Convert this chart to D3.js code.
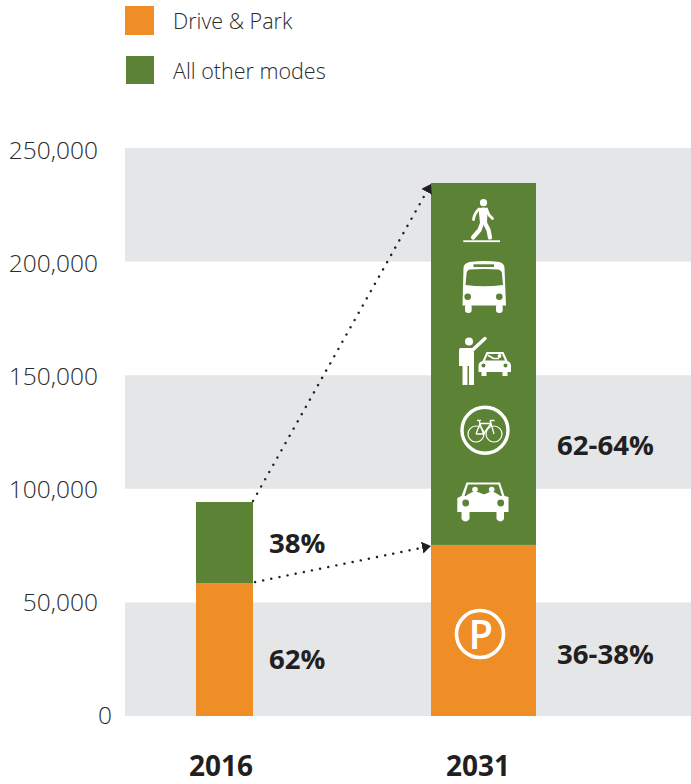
<!DOCTYPE html>
<html><head><meta charset="utf-8">
<script src="https://cdn.jsdelivr.net/npm/d3@7"></script>
<style>
html,body{margin:0;padding:0;background:#fff}
svg{display:block}
text{font-family:"Open Sans",sans-serif}
</style></head><body>
<svg id="c" width="691" height="784"></svg>
<script>
const years = ["2016", "2031"];
const driveAndPark = [58500, 75300];
const allOtherModes = [35700, 159300];
const seriesNames = ["Drive & Park", "All other modes"];
const tickValues = [0, 50000, 100000, 150000, 200000, 250000];
const bandRanges = [[0, 50000], [100000, 150000], [200000, 250000]];
const shareDrive = ["62%", "36-38%"];
const shareOther = ["38%", "62-64%"];
const ORANGE = "#ef8d27", GREEN = "#5c8236", GRAY = "#e5e6e8", INK = "#231f20";

const svg = d3.select("#c");
const y = d3.scaleLinear().domain([0, 250000]).range([716, 148]);
const xc = d3.scaleOrdinal().domain(years).range([224.5, 483.5]);
const bw = d3.scaleOrdinal().domain(years).range([57, 105]);

// bands
svg.selectAll("rect.band").data(bandRanges).join("rect").attr("class", "band")
  .attr("x", 125).attr("width", 566)
  .attr("y", d => y(d[1])).attr("height", d => y(d[0]) - y(d[1])).attr("fill", GRAY);

// axis
const ax = svg.append("g").attr("transform", "translate(98,0)")
  .call(d3.axisLeft(y).tickValues(tickValues).tickSize(0).tickPadding(0).tickFormat(d3.format(",")));
ax.select(".domain").remove();
ax.selectAll("text").attr("font-size", 24.5).attr("font-weight", 300).attr("fill", "#2b2b2b")
  .style("font-family", '"Open Sans",sans-serif').attr("dy", "0.3em")
  .attr("y", d => 3 * d / 250000)
  .attr("x", d => d === 0 ? 14 : 0);

// bars
svg.selectAll("rect.d").data(years).join("rect").attr("class", "d")
  .attr("x", d => xc(d) - bw(d) / 2).attr("width", d => bw(d))
  .attr("y", (d, i) => y(driveAndPark[i])).attr("height", (d, i) => y(0) - y(driveAndPark[i])).attr("fill", ORANGE);
svg.selectAll("rect.o").data(years).join("rect").attr("class", "o")
  .attr("x", d => xc(d) - bw(d) / 2).attr("width", d => bw(d))
  .attr("y", (d, i) => y(driveAndPark[i] + allOtherModes[i]))
  .attr("height", (d, i) => y(driveAndPark[i]) - y(driveAndPark[i] + allOtherModes[i])).attr("fill", GREEN);

// year labels
svg.selectAll("text.yr").data(years).join("text").attr("class", "yr")
  .attr("x", d => xc(d) - (d === "2016" ? 3.5 : 5.5)).attr("y", 776).attr("text-anchor", "middle")
  .attr("font-size", 28).attr("font-weight", 700).attr("fill", INK).text(d => d);

// share labels
const pct = (arr, yVal, cls) => svg.selectAll("text." + cls).data(arr).join("text").attr("class", cls)
  .attr("x", (d, i) => i === 0 ? 269 : 557).attr("y", (d, i) => yVal[i])
  .attr("font-size", 27.6).attr("font-weight", 700).attr("fill", INK).text(d => d);
pct(shareDrive, [669, 664], "sd");
pct(shareOther, [553, 455], "so");

// legend
const lg = svg.selectAll("g.lg").data(seriesNames).join("g").attr("class", "lg");
lg.append("rect").attr("x", (d, i) => i ? 126 : 125).attr("y", (d, i) => i ? 56 : 6)
  .attr("width", (d, i) => i ? 28 : 29).attr("height", (d, i) => i ? 28 : 29)
  .attr("fill", (d, i) => i ? GREEN : ORANGE);
lg.append("text").attr("x", 173).attr("y", (d, i) => i ? 79 : 29)
  .attr("font-size", 21.5).attr("font-weight", 300).attr("fill", "#2b2b2b").text(d => d);

// dotted arrows
const defs = svg.append("defs");
defs.append("marker").attr("id", "ah").attr("viewBox", "0 0 9 12").attr("refX", 9).attr("refY", 6)
  .attr("markerUnits", "userSpaceOnUse").attr("markerWidth", 9).attr("markerHeight", 12).attr("orient", "auto")
  .append("path").attr("d", "M0,0L9,6L0,12Z").attr("fill", INK);
const edge2016 = xc("2016") + bw("2016") / 2, edge2031 = xc("2031") - bw("2031") / 2;
[
  [driveAndPark[0], driveAndPark[1], 2],
  [driveAndPark[0] + allOtherModes[0], driveAndPark[1] + allOtherModes[1], 0]
].forEach(([a, b, dx]) => {
  svg.append("line").attr("x1", edge2016 + dx).attr("y1", y(a) - 1).attr("x2", edge2031).attr("y2", y(b) + 1)
    .attr("stroke", INK).attr("stroke-width", 2.4).attr("stroke-linecap", "round")
    .attr("stroke-dasharray", "0.1 8.2").attr("marker-end", "url(#ah)");
});

// icons, local coordinates around the 2031 bar centre
const icons = svg.append("g").attr("transform", `translate(${xc("2031")},0)`);
const W = "#fff";
const stroke = (g, d, sw) => g.append("path").attr("d", d).attr("fill", "none").attr("stroke", W)
  .attr("stroke-width", sw).attr("stroke-linecap", "round").attr("stroke-linejoin", "round");
// walker
const wk = icons.append("g");
wk.append("circle").attr("cx", 0).attr("cy", 202.7).attr("r", 3.6).attr("fill", W);
wk.append("path").attr("d", "M-5,208.5 Q0,206.5 4,208.5 L3.5,223 L-3.5,223Z").attr("fill", W);
stroke(wk, "M-4.5,209 Q-9,213 -10,219.5", 2.8);
stroke(wk, "M3,209 L5.5,215 L9,218.5", 2.8);
stroke(wk, "M-1,222 L-4,230 L-10.5,237.5", 4.2);
stroke(wk, "M1,222 L5,230 L6.5,237.5", 4.2);
wk.append("rect").attr("x", -20.2).attr("y", 240.3).attr("width", 36.7).attr("height", 1.8).attr("fill", W);
// bus
const bus = icons.append("g");
bus.append("path").attr("d", "M-14,262 Q1,260 16,262 Q21,263.5 21,268 L22.5,305.5 L-21,305.5 L-20,268 Q-20,263.5 -14,262Z").attr("fill", W);
bus.append("path").attr("d", "M-14,269.5 Q1,268.5 15,269.5 Q18.5,270.5 18.5,274 L19.5,285 Q1,287.5 -18,285 L-17,274 Q-17,270.5 -14,269.5Z").attr("fill", GREEN);
bus.append("rect").attr("x", -10).attr("y", 264.3).attr("width", 20.5).attr("height", 2.7).attr("fill", GREEN);
bus.append("rect").attr("x", -18.5).attr("y", 304).attr("width", 6.7).attr("height", 9).attr("rx", 3).attr("fill", W);
bus.append("rect").attr("x", 12.5).attr("y", 304).attr("width", 6.7).attr("height", 9).attr("rx", 3).attr("fill", W);
bus.append("circle").attr("cx", -15.8).attr("cy", 296.7).attr("r", 3.3).attr("fill", GREEN);
bus.append("circle").attr("cx", 15.8).attr("cy", 296.7).attr("r", 3.3).attr("fill", GREEN);
// hitch-hiker and car
const hh = icons.append("g");
hh.append("circle").attr("cx", -14.5).attr("cy", 341.5).attr("r", 4).attr("fill", W);
hh.append("path").attr("d", "M-23,348 Q-24.5,348 -24.5,351 L-24.5,366 L-21,366 L-21,385 L-16,385 L-16,366 L-14.5,366 L-14.5,385 L-9.5,385 L-9.5,352 L-12,348Z").attr("fill", W);
stroke(hh, "M-12,351 L1.5,338.5", 3.4);
hh.append("path").attr("d", "M-1,361 L3,352 L20,352 L24,361 Q27.5,362 27.5,366 L27.5,372 L24,372 L24,376 L19,376 L19,372 L3,372 L3,376 L-2,376 L-2,372 L-5,372 L-5,366 Q-5,362 -1,361Z").attr("fill", W);
hh.append("path").attr("d", "M1.5,360.5 L4.5,354 L18.5,354 L21.5,360.5Z").attr("fill", GREEN);
hh.append("circle").attr("cx", 16).attr("cy", 356).attr("r", 1.9).attr("fill", W);
stroke(hh, "M5,355.5 L10,358.5 L15,358.5", 1.5);
hh.append("circle").attr("cx", 0).attr("cy", 365.5).attr("r", 2).attr("fill", GREEN);
hh.append("circle").attr("cx", 22).attr("cy", 365.5).attr("r", 2).attr("fill", GREEN);
// bike
const bk = icons.append("g");
bk.append("circle").attr("cx", 1.5).attr("cy", 430.3).attr("r", 23).attr("fill", "none").attr("stroke", W).attr("stroke-width", 3.4);
bk.append("circle").attr("cx", -7.5).attr("cy", 434).attr("r", 8).attr("fill", "none").attr("stroke", W).attr("stroke-width", 1.2);
bk.append("circle").attr("cx", 10.5).attr("cy", 434).attr("r", 8).attr("fill", "none").attr("stroke", W).attr("stroke-width", 1.2);
bk.append("path").attr("d", "M-7.5,434 L-3.5,423.5 L7.5,423.5 L10.5,434 M-3.5,423.5 L0,434 L-7.5,434 M0,434 L7.5,423.5 M-4.5,420.3 L-3.5,423.5 M-6.5,420.3 L-2.5,420.3 M6.5,420.5 L7.5,423.5 M6.5,420.5 L11,420.5")
  .attr("fill", "none").attr("stroke", W).attr("stroke-width", 1.3);
// car with people
const car = icons.append("g");
car.append("path").attr("d", "M-17,482.5 L16.5,482.5 L21,496 L25,497 L25,512 L20.5,512 L20.5,519 Q17,524 13,519 L13,512 L-14,512 L-14,519 Q-18,524 -22,519 L-22,512 L-26.2,512 L-26.2,498 L-22,496Z").attr("fill", W);
car.append("path").attr("d", "M-15.5,484.5 L15,484.5 L18.5,496 L-19,496Z").attr("fill", GREEN);
car.append("path").attr("d", "M-19,497 L-15,494 Q-8.5,490 -2,493.5 Q0,495 3,493.5 Q8,490 14,494 L18.5,497Z").attr("fill", W);
car.append("circle").attr("cx", -8.5).attr("cy", 489.5).attr("r", 2.8).attr("fill", W);
car.append("circle").attr("cx", 8.2).attr("cy", 489.5).attr("r", 2.8).attr("fill", W);
car.append("circle").attr("cx", -17.8).attr("cy", 503).attr("r", 3.4).attr("fill", GREEN);
car.append("circle").attr("cx", 17.2).attr("cy", 503).attr("r", 3.4).attr("fill", GREEN);
// parking
const pk = icons.append("g");
pk.append("circle").attr("cx", -3.5).attr("cy", 634).attr("r", 23.5).attr("fill", "none").attr("stroke", W).attr("stroke-width", 3.6);
pk.append("text").attr("x", -2.8).attr("y", 649).attr("text-anchor", "middle").attr("font-size", 40).attr("font-weight", 600).attr("fill", W).text("P");
</script>
</body></html>
